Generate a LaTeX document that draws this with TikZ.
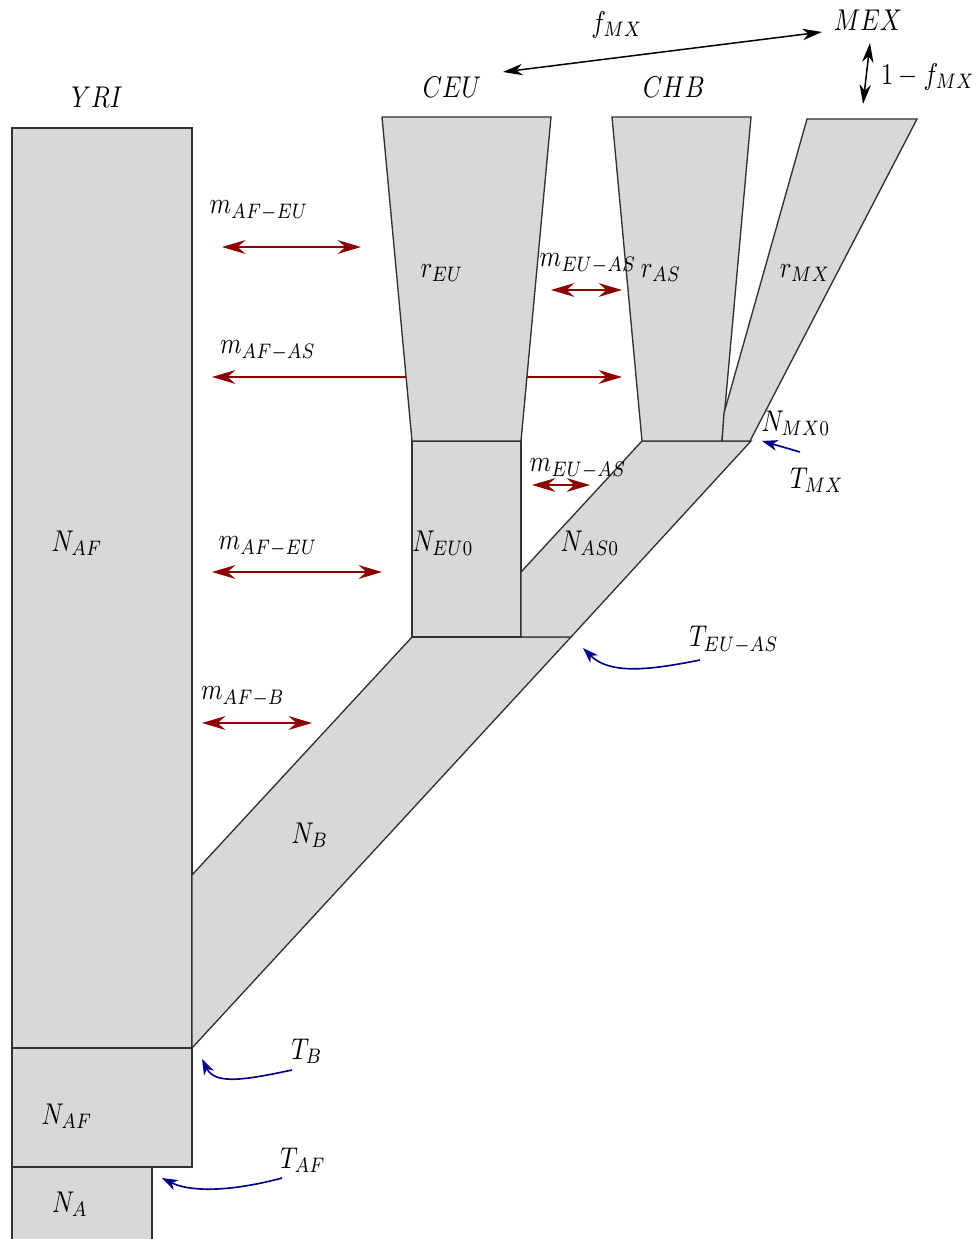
\documentclass[tikz,border=0pt]{standalone}
\usepackage{graphicx}
\usetikzlibrary{arrows.meta}
\DeclareMathSizes{10}{10}{6.8}{5}
\definecolor{regfill}{RGB}{216,216,216}
\definecolor{regline}{RGB}{50,50,50}
\definecolor{migred}{RGB}{140,0,0}
\definecolor{timeblue}{RGB}{0,0,140}
\newcommand{\sq}[1]{\scalebox{0.82}[1]{#1}}
\begin{document}
\begin{tikzpicture}[x=0.3333pt,y=-0.3333pt,
  region/.style={fill=regfill,draw=regline,line width=0.45pt,line join=miter},
  migtip/.tip={Stealth[length=7.8pt,width=4.6pt,inset=2.6pt]},
  mig/.style={draw=migred,line width=0.55pt,migtip-migtip},
  admix/.style={draw=black,line width=0.5pt,{Stealth[length=6.5pt,width=3.8pt,inset=2pt]}-{Stealth[length=6.5pt,width=3.8pt,inset=2pt]}},
  timearr/.style={draw=timeblue,line width=0.55pt,-{Stealth[length=5.2pt,width=3.6pt,inset=1.5pt]}},
  lab/.style={inner sep=0pt,font=\fontsize{10}{12}\selectfont}
]
\useasboundingbox (0,0) rectangle (977,1239);

% migration arrow hidden behind CEU
\coordinate (mas1) at (212,377);
\coordinate (mas2) at (622,377);
\draw[mig] (mas1) -- (mas2);

% YRI
\draw[region] (12,128) rectangle (192,1048);
\draw[region] (12,1048) rectangle (192,1167);
\draw[region] (12,1245) -- (12,1167) -- (152,1167) -- (152,1245);
% N_B
\draw[region] (192,1048) -- (192,875) -- (412,637) -- (571,637) -- cycle;
% N_EU0
\draw[region] (412,441) rectangle (521,637);
% CEU trapezoid
\draw[region] (382,117) -- (551,117) -- (521,441) -- (412,441) -- cycle;
% N_AS0
\draw[region] (521,637) -- (571,637) -- (751,441) -- (642,441) -- (521,572) -- cycle;
% CHB trapezoid
\draw[region] (612,117) -- (751,117) -- (722,441) -- (642,441) -- cycle;
% MEX
\draw[region] (807,119) -- (917,119) -- (750,441) -- (722,441) -- (724,413) -- cycle;

% population labels
\node[lab] (yri) at (97,97) {\sq{$YRI$}};
\node[lab] (ceu) at (452,87) {\sq{$CEU$}};
\node[lab] (chb) at (674,87) {\sq{$CHB$}};
\node[lab] (mex) at (868,20) {\sq{$MEX$}};
\node[lab] (fmx) at (617,25) {\sq{$f_{MX}$}};
\node[lab] (omf) at (928,77) {\sq{$1-f_{MX}$}};

% admixture arrows
\coordinate (ad1) at (503,72);
\coordinate (ad2) at (822,32);
\draw[admix] (ad1) -- (ad2);
\coordinate (av1) at (870,43);
\coordinate (av2) at (863,104);
\draw[admix] (av1) -- (av2);

% region labels
\node[lab] (reu) at (442,273) {\sq{$r_{EU}$}};
\node[lab] (ras) at (661,273) {\sq{$r_{AS}$}};
\node[lab] (rmx) at (805,273) {\sq{$r_{MX}$}};
\node[lab] (neu0) at (443,543) {\sq{$N_{EU0}$}};
\node[lab] (nas0) at (590,543) {\sq{$N_{AS0}$}};
\node[lab] (nmx0) at (796,423) {\sq{$N_{MX0}$}};
\node[lab] (naf1) at (77,543) {\sq{$N_{AF}$}};
\node[lab] (nb) at (310,835) {\sq{$N_B$}};
\node[lab] (naf2) at (67,1116) {\sq{$N_{AF}$}};
\node[lab] (na) at (70,1204) {\sq{$N_A$}};

% migration labels and arrows
\node[lab] (meuas1) at (588,264) {\sq{$m_{EU-AS}$}};
\coordinate (mea1) at (551,290);
\coordinate (mea2) at (622,290);
\draw[mig] (mea1) -- (mea2);

\node[lab] (mafeu1) at (259,211) {\sq{$m_{AF-EU}$}};
\coordinate (mae1) at (222,247);
\coordinate (mae2) at (361,247);
\draw[mig] (mae1) -- (mae2);

\node[lab] (mafas) at (268,351) {\sq{$m_{AF-AS}$}};

\node[lab] (meuas2) at (578,469) {\sq{$m_{EU-AS}$}};
\coordinate (meb1) at (532,485);
\coordinate (meb2) at (590,485);
\draw[mig] (meb1) -- (meb2);

\node[lab] (mafeu2) at (268,547) {\sq{$m_{AF-EU}$}};
\coordinate (maf1) at (212,572);
\coordinate (maf2) at (382,572);
\draw[mig] (maf1) -- (maf2);

\node[lab] (mafb) at (243,697) {\sq{$m_{AF-B}$}};
\coordinate (mab1) at (202,723);
\coordinate (mab2) at (312,723);
\draw[mig] (mab1) -- (mab2);

% time labels and arrows
\node[lab] (tmx) at (817,480) {\sq{$T_{MX}$}};
\coordinate (tmx1) at (800,452);
\coordinate (tmx2) at (762,441);
\draw[timearr] (tmx1) -- (tmx2);

\node[lab] (teuas) at (734,640) {\sq{$T_{EU-AS}$}};
\coordinate (te1) at (700,660);
\coordinate (te2) at (583,648);
\draw[timearr] (te1) .. controls (650,670) and (610,675) .. (te2);

\node[lab] (tb) at (307,1051) {\sq{$T_B$}};
\coordinate (tb1) at (292,1070);
\coordinate (tb2) at (202,1059);
\draw[timearr] (tb1) .. controls (245,1080) and (215,1085) .. (tb2);

\node[lab] (taf) at (303,1160) {\sq{$T_{AF}$}};
\coordinate (taf1) at (282,1178);
\coordinate (taf2) at (162,1178);
\draw[timearr] (taf1) .. controls (230,1192) and (190,1192) .. (taf2);
\end{tikzpicture}
\end{document}
